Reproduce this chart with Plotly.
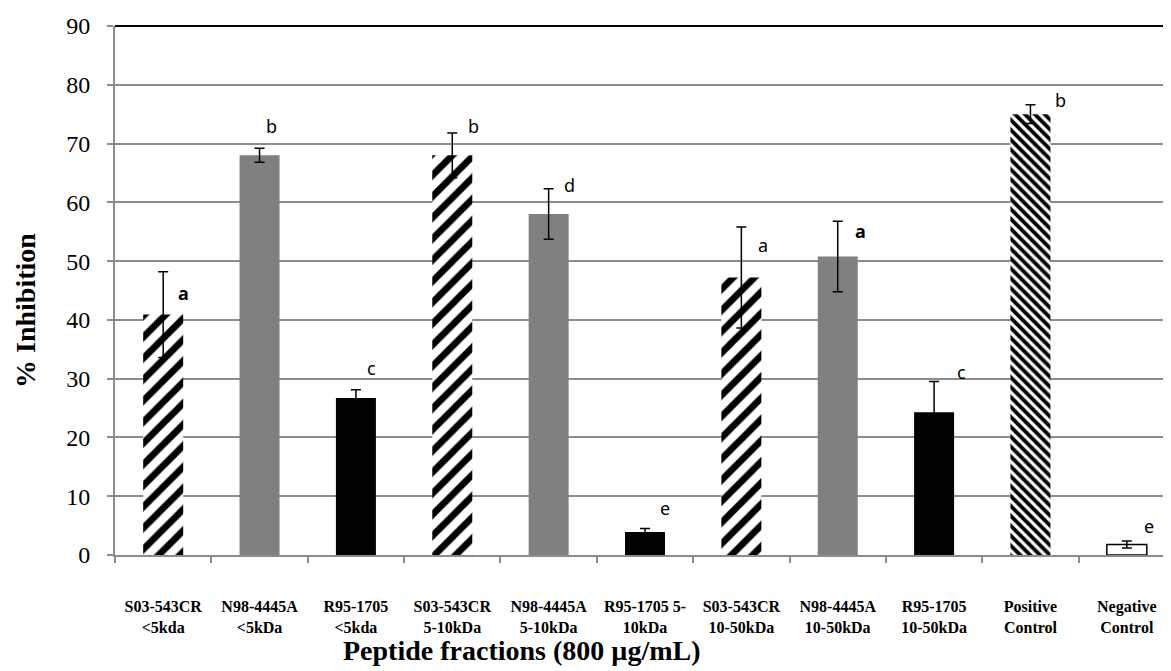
import plotly.graph_objects as go

# ---- data ----
categories = [
    "<b>S03-543CR<br>&lt;5kda</b>", "<b>N98-4445A<br>&lt;5kDa</b>", "<b>R95-1705<br>&lt;5kda</b>",
    "<b>S03-543CR<br>5-10kDa</b>", "<b>N98-4445A<br>5-10kDa</b>", "<b>R95-1705 5-<br>10kDa</b>",
    "<b>S03-543CR<br>10-50kDa</b>", "<b>N98-4445A<br>10-50kDa</b>", "<b>R95-1705<br>10-50kDa</b>",
    "<b>Positive<br>Control</b>", "<b>Negative<br>Control</b>",
]
inhibition = [40.9, 68.0, 26.7, 68.0, 58.0, 3.9, 47.2, 50.8, 24.3, 75.0, 1.8]
error = [7.3, 1.2, 1.4, 3.8, 4.3, 0.6, 8.6, 6.0, 5.2, 1.6, 0.6]
letters = ["<b>a</b>", "b", "c", "b", "d", "e", "a", "<b>a</b>", "c", "b", "e"]
letter_y = [44.6, 73.0, 31.8, 73.0, 63.0, 8.0, 52.7, 55.1, 31.1, 77.4, 4.9]
letter_shift = [20, 12, 16, 21, 21, 20, 22, 23, 27, 30, 22]
group = ["S03", "N98", "R95", "S03", "N98", "R95", "S03", "N98", "R95", "pos", "neg"]

# ---- styles ----
styles = {
    "S03": dict(color="white", pattern=dict(shape="/", fgcolor="black", bgcolor="white",
                                            fgopacity=1, size=15, solidity=0.45),
                line=dict(width=0)),
    "N98": dict(color="#808080", line=dict(width=0)),
    "R95": dict(color="black", line=dict(width=0)),
    "pos": dict(color="white", pattern=dict(shape="\\", fgcolor="black", bgcolor="white",
                                            fgopacity=1, size=7, solidity=0.55),
                line=dict(width=0)),
    "neg": dict(color="white", line=dict(color="black", width=1.5)),
}

GRID = "#8c8c8c"
SERIF = "Liberation Serif, Times New Roman, serif"

fig = go.Figure()
for g, st in styles.items():
    idx = [i for i, gg in enumerate(group) if gg == g]
    fig.add_trace(go.Bar(
        x=[categories[i] for i in idx],
        y=[inhibition[i] for i in idx],
        marker=st, opacity=1,
        error_y=dict(type="data", array=[error[i] for i in idx], visible=True,
                     color="black", thickness=1.5, width=5),
        showlegend=False, name=g,
    ))

for c, t, ly, sh in zip(categories, letters, letter_y, letter_shift):
    fig.add_annotation(x=c, y=ly, text=t, showarrow=False, xshift=sh,
                       font=dict(family="Noto Sans, DejaVu Sans, sans-serif",
                                 size=18, color="black"))

# axis titles
fig.add_annotation(xref="paper", yref="paper", x=0.384, y=-0.18,
                   xanchor="center", yanchor="middle",
                   text="<b>Peptide fractions (800 µg/mL)</b>", showarrow=False,
                   font=dict(family=SERIF, size=28, color="black"))
fig.add_annotation(xref="paper", yref="paper", x=-0.085, y=0.463,
                   xanchor="center", yanchor="middle",
                   text="<b>% Inhibition</b>", showarrow=False, textangle=-90,
                   font=dict(family=SERIF, size=28, color="black"))

# top and right border
fig.add_shape(type="line", xref="paper", yref="paper", x0=0, x1=1, y0=1, y1=1,
              line=dict(color="black", width=2))
fig.add_shape(type="line", xref="paper", yref="paper", x0=1, x1=1, y0=0, y1=1,
              line=dict(color="black", width=2))

fig.update_layout(
    width=1171, height=671,
    margin=dict(l=107, r=4, t=18, b=124),
    plot_bgcolor="white", paper_bgcolor="white",
    barmode="overlay", bargap=0.585,
    font=dict(family=SERIF, color="black"),
)
fig.update_xaxes(
    type="category", categoryorder="array", categoryarray=categories,
    tickson="boundaries",
    ticks="outside", ticklen=6, tickcolor=GRID, tickwidth=1.5,
    showline=True, linecolor=GRID, linewidth=2,
    showgrid=False,
    ticklabelstandoff=36,
    tickfont=dict(family=SERIF, size=16, color="black"),
    tickangle=0,
)
fig.update_yaxes(
    range=[0, 90], dtick=10, tick0=0,
    ticks="outside", ticklen=6, tickcolor=GRID, tickwidth=1.5,
    showline=True, linecolor=GRID, linewidth=2,
    showgrid=True, gridcolor=GRID, gridwidth=1.5,
    zeroline=False,
    ticklabelstandoff=12,
    tickfont=dict(family=SERIF, size=24, color="black"),
)

fig.write_html("out.html")
